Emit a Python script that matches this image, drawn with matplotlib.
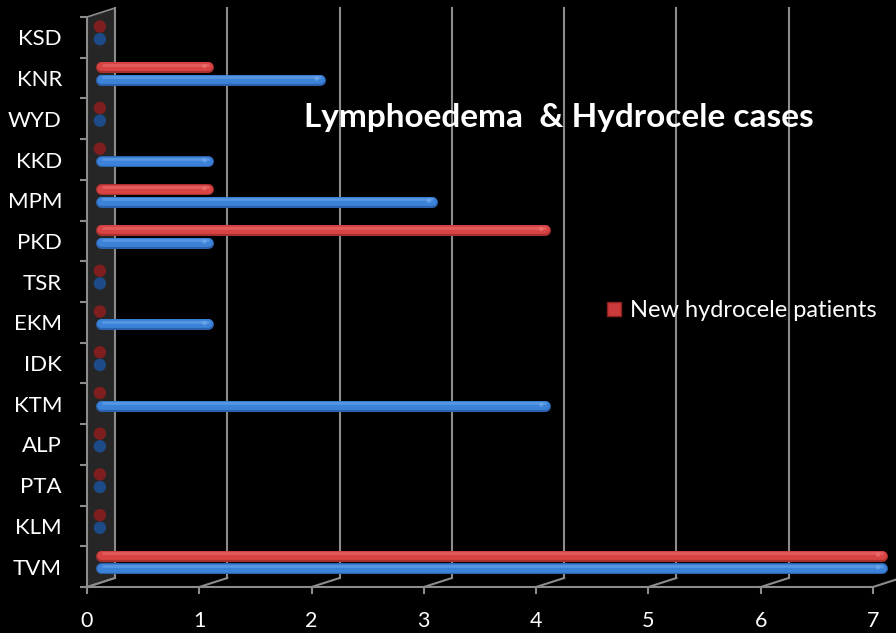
import numpy as np
import matplotlib.pyplot as plt
from matplotlib.patches import Polygon
from matplotlib.lines import Line2D

plt.rcParams['font.family'] = ['Lato', 'DejaVu Sans']

# district codes, bottom to top
districts = ['TVM', 'KLM', 'PTA', 'ALP', 'KTM', 'IDK', 'EKM', 'TSR',
             'PKD', 'MPM', 'KKD', 'WYD', 'KNR', 'KSD']
lymph = [7, 0, 0, 0, 4, 0, 1, 0, 1, 3, 1, 0, 2, 0]
hydro = [7, 0, 0, 0, 0, 0, 0, 0, 4, 1, 0, 0, 1, 0]
xticks = [0, 1, 2, 3, 4, 5, 6, 7]

W, H = 896, 633
fig = plt.figure(figsize=(W / 100, H / 100), dpi=100, facecolor='black')
ax = fig.add_axes([87 / W, 46 / H, 786 / W, 570 / H])
ax.set_facecolor('black')
ax.set_xlim(0, 7)
ax.set_ylim(-0.5, len(districts) - 0.5)

# pseudo 3d depth (data units)
px_x = 786 / 7.0
px_y = 570 / len(districts)
DX = 28 / px_x
DY = 9 / px_y
ytop = len(districts) - 0.5
grid_c = '#8c8c8c'

# left wall
wall = Polygon([(0, -0.5), (DX, -0.5 + DY), (DX, ytop + DY), (0, ytop)],
               closed=True, facecolor='#262626', edgecolor=grid_c, lw=1.2,
               clip_on=False, zorder=1)
ax.add_patch(wall)

# back grid lines + floor diagonals
for x in xticks:
    ax.plot([x + DX, x + DX], [-0.5 + DY, ytop + DY], color=grid_c, lw=1.5,
            clip_on=False, zorder=1)
    ax.plot([x, x + DX], [-0.5, -0.5 + DY], color=grid_c, lw=1.5,
            clip_on=False, zorder=1)

# cylinder bars
bar_px = 11
r = (bar_px / 2) / px_x
lw_pt = bar_px * 72 / 100
sep = 6.3 / px_y
y = np.arange(len(districts)) + DY / 2


def cylinder(vals, yy, base, mid, light, dark):
    for v, yc in zip(vals, yy):
        if v == 0:
            ax.scatter([DX / 2 - 0.01], [yc], s=80, color=dark, edgecolors='none',
                       zorder=3, clip_on=False)
            continue
        x0, x1 = DX / 2, v + DX / 2 - r
        ax.plot([x0, x1], [yc, yc], color=base, lw=lw_pt, solid_capstyle='round',
                zorder=3, clip_on=False)
        ax.plot([x0, x1], [yc + 0.8 / px_y, yc + 0.8 / px_y], color=mid,
                lw=lw_pt * 0.8, solid_capstyle='round', zorder=4, clip_on=False)
        ax.plot([x0 + 0.02, x1], [yc + 2.6 / px_y, yc + 2.6 / px_y], color=light,
                lw=lw_pt * 0.25, solid_capstyle='round', zorder=5, clip_on=False,
                alpha=0.45)
        ax.scatter([x1 - 0.03], [yc + 1.2 / px_y], s=10, color=light, alpha=0.6,
                   edgecolors='none', zorder=6, clip_on=False)


cylinder(lymph, y - sep, '#2c62ad', '#3c82d8', '#78b0f0', '#1d4b88')
cylinder(hydro, y + sep, '#a83030', '#d84444', '#f07a7a', '#7e1e1e')

# axes
for s in ['top', 'right']:
    ax.spines[s].set_visible(False)
for s in ['left', 'bottom']:
    ax.spines[s].set_color(grid_c)
    ax.spines[s].set_linewidth(1.5)
ax.set_xticks(xticks)
ax.set_xticklabels([str(t) for t in xticks])
ax.set_yticks(np.arange(len(districts)))
ax.set_yticklabels(districts)
ax.set_yticks(np.arange(len(districts) + 1) - 0.5, minor=True)
ax.tick_params(axis='x', colors=grid_c, labelcolor='white', labelsize=15.5,
               length=5, width=1.5, pad=12)
ax.tick_params(axis='y', which='major', length=0, labelcolor='white',
               labelsize=16, pad=18)
ax.tick_params(axis='y', which='minor', length=5, width=1.5, colors=grid_c)

# legend (hydrocele entry only)
handle = Line2D([], [], marker='s', ls='none', markersize=9.5,
                markerfacecolor='#cc3b3b', markeredgecolor='#8a2020')
leg = fig.legend([handle], ['New hydrocele patients'], loc='center left',
                 bbox_to_anchor=(593 / W, 1 - 311 / H), frameon=False,
                 fontsize=17, handletextpad=0.25, borderpad=0, handlelength=0.8)
for t in leg.get_texts():
    t.set_color('white')

fig.text(559 / W, 1 - 117 / H, 'Lymphoedema  & Hydrocele cases', color='white',
         fontsize=24, fontweight='bold', ha='center', va='center')

fig.savefig('out.png', dpi=100, facecolor='black')
